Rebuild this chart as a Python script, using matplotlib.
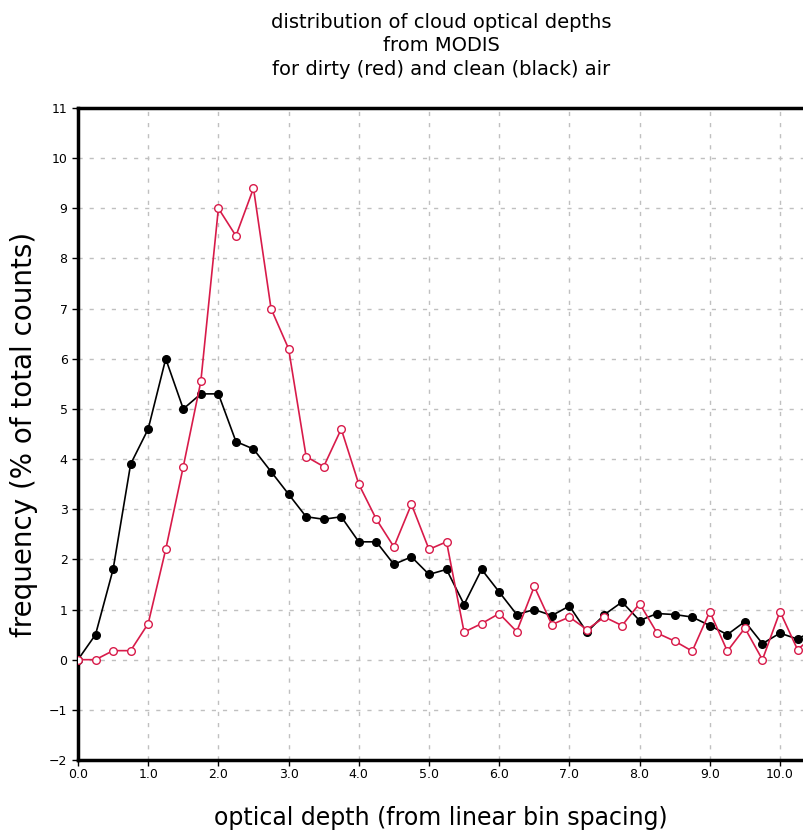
# Distribution of MODIS cloud optical depths, dirty vs clean air
import matplotlib.pyplot as plt
import numpy as np

optical_depth = np.arange(0, 10.51, 0.25)

clean_freq = [0.0, 0.5, 1.8, 3.9, 4.6, 6.0, 5.0, 5.3, 5.3, 4.35, 4.2, 3.75,
              3.3, 2.85, 2.8, 2.85, 2.35, 2.35, 1.9, 2.05, 1.7, 1.8, 1.1, 1.8,
              1.35, 0.9, 1.0, 0.88, 1.07, 0.55, 0.9, 1.15, 0.78, 0.92, 0.9,
              0.85, 0.68, 0.5, 0.76, 0.32, 0.53, 0.41, 0.6]

dirty_freq = [0.0, 0.0, 0.18, 0.18, 0.72, 2.2, 3.85, 5.55, 9.0, 8.45, 9.4, 7.0,
              6.2, 4.05, 3.85, 4.6, 3.5, 2.8, 2.25, 3.1, 2.2, 2.35, 0.55, 0.72,
              0.92, 0.56, 1.46, 0.7, 0.85, 0.6, 0.85, 0.68, 1.12, 0.53, 0.37,
              0.17, 0.96, 0.17, 0.63, 0.0, 0.96, 0.2, 0.5]

x_ticks = np.arange(0, 11, 1.0)
y_ticks = np.arange(-2, 12, 1)

fig = plt.figure(figsize=(8.04, 8.38), dpi=100)
ax = fig.add_axes([0.097, 0.0931, 0.903, 0.778])

ax.plot(optical_depth, clean_freq, color='black', linewidth=1.2,
        marker='o', markersize=5.5, markerfacecolor='black', zorder=3)
ax.plot(optical_depth, dirty_freq, color='#d81b4a', linewidth=1.2,
        marker='o', markersize=5.5, markerfacecolor='white',
        markeredgecolor='#d81b4a', zorder=4)

ax.set_xlim(0, 10.342)
ax.set_ylim(-2, 11)
ax.set_xticks(x_ticks)
ax.set_xticklabels(['%.1f' % v for v in x_ticks])
ax.set_yticks(y_ticks)
ax.set_yticklabels([str(v).replace('-', '\u2212') for v in y_ticks])

ax.grid(True, color='#c0c0c0', linestyle=(0, (3, 5)), linewidth=1.0)
ax.set_axisbelow(True)

for side in ['left', 'bottom', 'top']:
    ax.spines[side].set_linewidth(2.5)
ax.spines['right'].set_visible(False)
ax.tick_params(axis='both', direction='out', length=4, width=1,
               labelsize=9, colors='black')
ax.tick_params(axis='x', pad=2)

ax.set_title('distribution of cloud optical depths\nfrom MODIS\n'
             'for dirty (red) and clean (black) air',
             fontsize=14, linespacing=1.3, pad=24)
ax.set_xlabel('optical depth (from linear bin spacing)', fontsize=17,
              labelpad=18)
ax.set_ylabel('frequency (% of total counts)', fontsize=20, labelpad=8)

fig.savefig('out.png', dpi=100)
